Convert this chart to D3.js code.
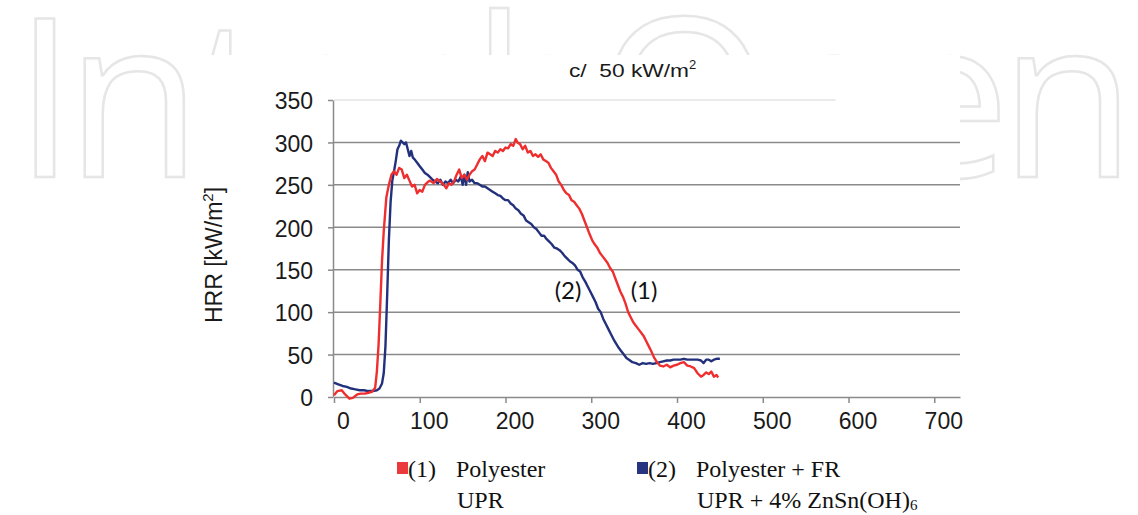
<!DOCTYPE html>
<html>
<head>
<meta charset="utf-8">
<script src="https://cdn.jsdelivr.net/npm/d3@7"></script>
<style>
  body { margin: 0; background: #fff; }
  .tick text { font-family: "Liberation Sans", Arial, sans-serif; font-size: 23px; fill: #1a1a1a; }
</style>
</head>
<body>
<script>
var outerWidth = 1138, outerHeight = 515;

// time [s] and HRR [kW/m2]
var redTime = [0,4,9,13,18,22,27,31,36,40,44,48,50,52,54,56,58,61,64,67,70,73,76,79,82,85,88,91,94,97,
  100,103,106,109,112,116,120,124,128,131,134,137,140,143,146,149,152,155,158,161,164,167,170,173,176,179,
  182,185,188,191,194,197,200,203,206,209,212,214,217,220,223,226,229,232,235,238,241,244,247,250,253,256,
  259,262,265,268,271,274,277,280,283,286,289,292,295,298,301,304,307,310,313,316,319,322,325,328,331,334,
  337,340,343,346,349,352,355,358,361,364,367,370,373,376,380,384,388,392,396,400,404,408,412,416,420,424,
  428,431,434,437,440,443,446,448];
var redHRR = [2,7,8,3,-2,-1,3,4,4,5,6,11,30,62,110,160,195,235,250,262,266,262,270,268,258,262,255,248,250,240,
  244,242,250,253,255,252,257,254,250,246,252,250,254,262,268,258,262,256,262,266,268,274,280,284,278,288,
  286,284,290,288,292,290,294,293,298,296,304,300,298,292,296,288,290,284,286,283,286,280,278,276,270,266,
  262,254,250,244,240,238,232,230,226,222,216,208,200,192,185,180,176,170,166,162,158,152,148,140,132,124,
  118,110,100,94,88,84,80,76,72,66,60,54,47,42,37,36,38,35,37,38,40,41,37,36,34,28,
  24,26,29,27,30,24,26,23];

var blueTime = [0,5,10,15,20,25,30,35,40,45,50,53,56,58,60,62,64,66,68,70,72,74,76,78,80,82,84,86,88,90,92,94,
  97,100,103,106,109,112,115,118,121,124,127,130,133,136,139,142,145,148,150,152,154,156,158,161,164,167,
  170,173,176,179,182,185,188,191,194,197,200,203,206,209,212,215,218,221,224,227,230,233,236,239,242,245,
  248,251,254,257,260,263,266,269,272,275,278,281,284,287,290,293,296,299,302,305,308,311,314,317,320,323,
  326,329,332,335,338,341,344,348,352,356,360,364,368,372,376,380,384,388,392,396,400,404,408,412,416,420,
  424,428,431,434,437,440,443,446,450];
var blueHRR = [17,15,13,12,10,9,8,8,7,7,8,10,16,28,60,120,185,230,255,266,278,292,296,302,300,298,300,292,284,290,282,280,
  276,272,268,264,262,259,256,254,252,256,250,254,252,256,252,256,254,260,250,262,250,265,254,256,252,252,
  250,248,248,246,244,242,240,238,237,234,232,232,228,226,222,220,216,214,208,206,204,200,198,194,190,190,
  186,183,180,176,175,173,170,166,163,160,158,155,150,148,141,136,130,124,118,112,104,100,92,86,80,74,
  68,63,58,54,50,46,44,41,40,38,40,39,40,39,40,41,42,43,43,44,44,44,45,44,44,44,
  44,43,40,44,44,42,44,45,45];

var xTicks = [0, 100, 200, 300, 400, 500, 600, 700];
var yTicks = [0, 50, 100, 150, 200, 250, 300, 350];
var gridValues = [50, 100, 150, 200, 250, 300];

var redData = redTime.map(function (t, i) { return { x: t, y: redHRR[i] }; });
var blueData = blueTime.map(function (t, i) { return { x: t, y: blueHRR[i] }; });

var colRed = "#ef2f2f", colBlue = "#23307c";

var svg = d3.select("body").append("svg")
  .attr("width", outerWidth)
  .attr("height", outerHeight);

// faint publisher watermark behind the figure
svg.append("text")
  .attr("x", 14).attr("y", 177)
  .attr("textLength", 1122)
  .attr("lengthAdjust", "spacing")
  .style("font-family", "'Open Sans', sans-serif")
  .style("font-size", "222px")
  .style("fill", "none")
  .style("stroke", "#e6e6e6")
  .style("stroke-width", 2.5)
  .text("IntechOpen");

// white figure area on top of the watermark
svg.append("rect")
  .attr("x", 194).attr("y", 55)
  .attr("width", 766).attr("height", 460)
  .style("fill", "#fff");

var x = d3.scaleLinear().domain([0, 730]).range([334, 960]);
var y = d3.scaleLinear().domain([0, 350]).range([397, 100]);

// gridlines
svg.selectAll(".grid")
  .data(gridValues)
  .enter().append("line")
  .attr("x1", x(0)).attr("x2", x(730))
  .attr("y1", function (d) { return y(d); })
  .attr("y2", function (d) { return y(d); })
  .style("stroke", "#8a8a8a")
  .style("stroke-width", 1.5);

svg.append("line")                       // top line is very light in the original
  .attr("x1", x(0)).attr("x2", x(585))
  .attr("y1", y(350)).attr("y2", y(350))
  .style("stroke", "#e4e4e4")
  .style("stroke-width", 1.5);

var xAxis = d3.axisBottom(x).tickValues(xTicks).tickSize(6).tickSizeOuter(0).tickPadding(10);
var yAxis = d3.axisLeft(y).tickValues(yTicks).tickSize(5).tickSizeOuter(0).tickPadding(15);

var gx = svg.append("g")
  .attr("transform", "translate(0," + y(0) + ")")
  .call(xAxis);
gx.selectAll("text").attr("dx", 9);

var gy = svg.append("g")
  .attr("transform", "translate(" + (x(0) - 1) + ",0)")
  .call(yAxis);
gy.selectAll("text").attr("dy", "0.38em");

svg.selectAll(".domain, .tick line")
  .style("stroke", "#8a8a8a")
  .style("stroke-width", 1.5);

var line = d3.line()
  .x(function (d) { return x(d.x); })
  .y(function (d) { return y(d.y); });

svg.append("path")
  .datum(blueData)
  .attr("d", line)
  .style("fill", "none")
  .style("stroke", colBlue)
  .style("stroke-width", 2.4)
  .style("stroke-linejoin", "round");

svg.append("path")
  .datum(redData)
  .attr("d", line)
  .style("fill", "none")
  .style("stroke", colRed)
  .style("stroke-width", 2.4)
  .style("stroke-linejoin", "round");

// title
svg.append("text")
  .attr("x", 569).attr("y", 77)
  .attr("textLength", 120)
  .attr("lengthAdjust", "spacingAndGlyphs")
  .style("font-family", "'Liberation Sans', Arial, sans-serif")
  .style("font-size", "19px")
  .style("fill", "#1a1a1a")
  .text("c/\u00a0\u00a050 kW/m");
svg.append("text")
  .attr("x", 689).attr("y", 69)
  .style("font-family", "'Liberation Sans', Arial, sans-serif")
  .style("font-size", "13px")
  .style("fill", "#1a1a1a")
  .text("2");

// y axis title
svg.append("text")
  .attr("transform", "translate(222,255) rotate(-90)")
  .attr("text-anchor", "middle")
  .style("font-family", "'Liberation Sans', Arial, sans-serif")
  .style("font-size", "23px")
  .style("fill", "#1a1a1a")
  .html("HRR [kW/m<tspan dy='-9' font-size='15px'>2</tspan><tspan dy='9'>]</tspan>");

// curve labels
var curveLabels = [{ t: "(2)", x: 568 }, { t: "(1)", x: 644 }];
svg.selectAll(".clabel")
  .data(curveLabels)
  .enter().append("text")
  .attr("x", function (d) { return d.x; })
  .attr("y", 299)
  .attr("text-anchor", "middle")
  .style("font-family", "Lato, 'Open Sans', sans-serif")
  .style("font-size", "24px")
  .style("fill", "#111")
  .text(function (d) { return d.t; });

// legend
var legend = [
  { c: colRed, num: "(1)", l1: "Polyester", l2: "UPR", x: 397 },
  { c: "#27347f", num: "(2)", l1: "Polyester + FR", l2: "UPR + 4% ZnSn(OH)", sub: "6", x: 637 }
];
var lg = svg.selectAll(".lg")
  .data(legend)
  .enter().append("g")
  .attr("transform", function (d) { return "translate(" + d.x + ",0)"; })
  .style("font-family", "'Liberation Serif', 'Times New Roman', serif")
  .style("font-size", "24px")
  .style("fill", "#111");
lg.append("rect")
  .attr("x", 0).attr("y", 462)
  .attr("width", 11).attr("height", 12)
  .style("fill", function (d) { return d.c === colRed ? "#ea3a3e" : d.c; });
lg.append("text").attr("x", 11).attr("y", 477).text(function (d) { return d.num; });
lg.append("text").attr("x", 59).attr("y", 477).text(function (d) { return d.l1; });
var l2 = lg.append("text").attr("x", 60).attr("y", 508).text(function (d) { return d.l2; });
l2.filter(function (d) { return d.sub; })
  .append("tspan").attr("dy", 2).style("font-size", "15px").text(function (d) { return d.sub; });
</script>
</body>
</html>
